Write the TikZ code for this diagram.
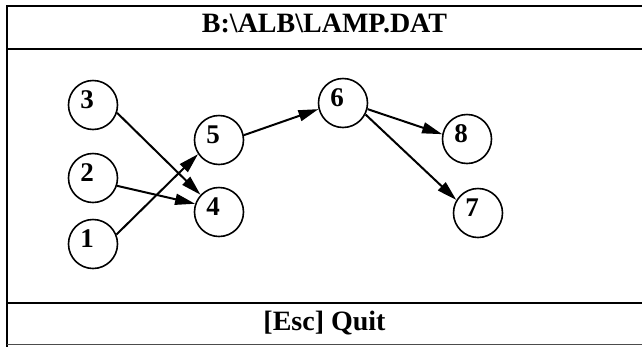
\documentclass[tikz,border=0pt]{standalone}
\usepackage{fontspec}
\setmainfont{Liberation Serif}
\usetikzlibrary{arrows.meta}
\begin{document}
\begin{tikzpicture}[x=1pt,y=-1pt,
  frameline/.style={line width=2pt, line cap=rect},
  circ/.style={circle, draw, line width=1.6pt, minimum size=49pt, inner sep=0pt},
  num/.style={font=\bfseries\fontsize{27}{27}\selectfont, anchor=base, inner sep=0pt},
  bartext/.style={font=\bfseries\fontsize{28}{28}\selectfont, anchor=base, inner sep=0pt},
  link/.style={line width=2pt, -{Triangle[length=20pt,width=11pt]}}]
\useasboundingbox (0,0) rectangle (642,346);
% frame
\draw[frameline] (660,6) -- (7,6) -- (7,346);
\draw[frameline] (7,49) -- (660,49);
\draw[frameline] (7,303) -- (660,303);
\draw[line width=1.4pt, black!70] (7,344.5) -- (660,344.5);
% bars
\node[bartext] (title) at (324.5,32) {B:\textbackslash ALB\textbackslash LAMP.DAT};
\node[bartext] (quit) at (324.5,330) {[Esc] Quit};
% nodes
\node[circ] (c3) at (93,105) {};
\node[circ] (c2) at (93,178) {};
\node[circ] (c1) at (93,244) {};
\node[circ] (c5) at (219,140) {};
\node[circ] (c4) at (219,212) {};
\node[circ] (c6) at (343,103) {};
\node[circ] (c8) at (467,139) {};
\node[circ] (c7) at (478,213) {};
% labels
\node[num] (l3) at ([shift={(-6,3)}]c3.center) {3};
\node[num] (l2) at ([shift={(-6,3)}]c2.center) {2};
\node[num] (l1) at ([shift={(-6,3)}]c1.center) {1};
\node[num] (l5) at ([shift={(-6,3)}]c5.center) {5};
\node[num] (l4) at ([shift={(-6,3)}]c4.center) {4};
\node[num] (l6) at ([shift={(-6,3)}]c6.center) {6};
\node[num] (l8) at ([shift={(-6,3)}]c8.center) {8};
\node[num] (l7) at ([shift={(-6,3)}]c7.center) {7};
% edges
\draw[link] (c3.-18) -- (c4.137);
\draw[link] (c2.-18) -- (c4.161);
\draw[link] (c1.22) -- (c5.214);
\draw[link] (c5.11) -- (c6.194);
\draw[link] (c6.-14) -- (c8.169);
\draw[link] (c6.-27) -- (c7.149);
\end{tikzpicture}
\end{document}
